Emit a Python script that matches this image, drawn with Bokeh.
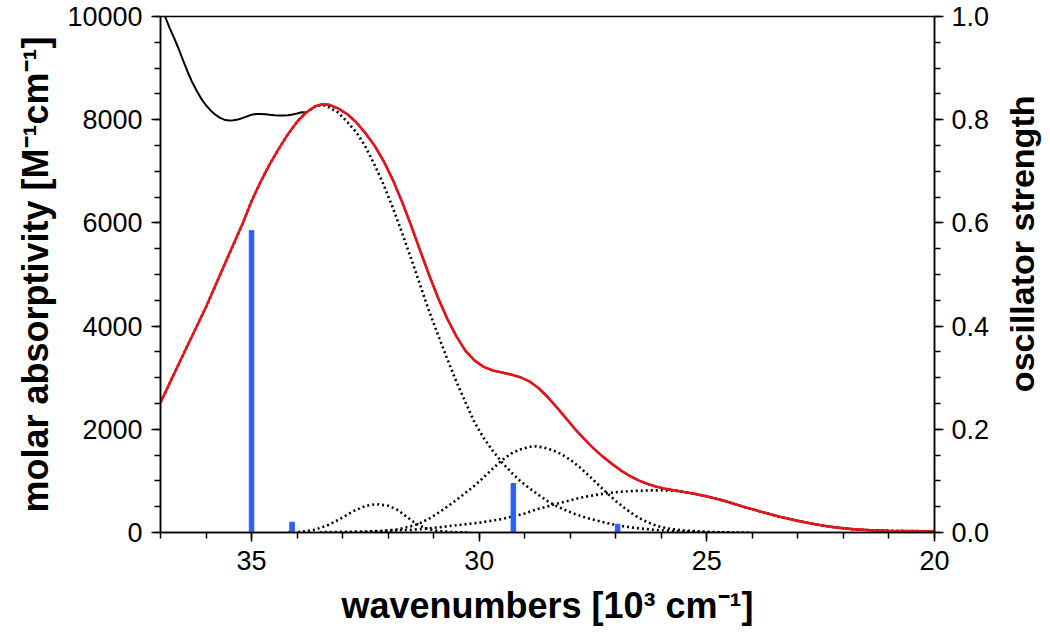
import math
from bokeh.plotting import figure
from bokeh.layouts import row
from bokeh.models import Range1d, LinearAxis, SingleIntervalTicker, PrintfTickFormatter
from bokeh.core.properties import value
from bokeh.embed import file_html
from bokeh.resources import INLINE

# ---- data ----
# fitted (red) spectrum
red_x = [37.0, 36.5, 36.0, 35.5, 35.2, 35.0, 34.8, 34.6, 34.4, 34.2, 34.0, 33.8, 33.6, 33.45,
         33.3, 33.1, 32.9, 32.7, 32.5, 32.3, 32.1, 31.9, 31.7, 31.5, 31.3, 31.1, 30.9, 30.7,
         30.5, 30.3, 30.1, 29.9, 29.7, 29.5, 29.3, 29.1, 28.9, 28.7, 28.5, 28.3, 28.1, 27.9,
         27.7, 27.5, 27.3, 27.1, 26.9, 26.7, 26.5, 26.3, 26.1, 25.9, 25.6, 25.3, 25.0, 24.6,
         24.2, 23.8, 23.4, 23.0, 22.6, 22.2, 21.8, 21.4, 21.0, 20.5, 20.0]
red_y = [2518, 3450, 4370, 5380, 5980, 6420, 6800, 7140, 7440, 7720, 7960, 8140, 8260, 8300,
         8290, 8220, 8110, 7950, 7740, 7500, 7200, 6840, 6420, 5960, 5470, 4990, 4540, 4140,
         3800, 3520, 3330, 3210, 3140, 3100, 3060, 3010, 2930, 2800, 2630, 2430, 2220, 2010,
         1820, 1640, 1480, 1340, 1210, 1100, 1010, 940, 885, 845, 800, 755, 700, 610,
         500, 400, 305, 225, 155, 100, 65, 45, 35, 28, 20]

# experimental (black) spectrum where it departs from the fit
exp_left_x = [36.9, 36.8, 36.7, 36.6, 36.5, 36.4, 36.3, 36.2, 36.1, 36.0, 35.9, 35.8, 35.7,
              35.6, 35.5, 35.4, 35.3, 35.2, 35.1, 35.0, 34.9, 34.8, 34.7, 34.6, 34.5, 34.4,
              34.3, 34.2, 34.1, 34.0, 33.9]
exp_left_y = [10000, 9780, 9580, 9370, 9140, 8920, 8720, 8550, 8400, 8280, 8180, 8100, 8040,
              8000, 7985, 7990, 8005, 8030, 8065, 8095, 8110, 8112, 8105, 8095, 8088, 8082,
              8080, 8085, 8100, 8120, 8145]

# Gaussian components (dotted)
g1_right_x = [33.45, 33.3, 33.1, 32.9, 32.7, 32.5, 32.3, 32.1, 31.9, 31.7, 31.5, 31.3, 31.1,
              30.9, 30.7, 30.5, 30.3, 30.1, 29.9, 29.7, 29.5, 29.3, 29.1, 28.9, 28.7, 28.5,
              28.3, 28.1, 27.9, 27.7, 27.5, 27.3, 27.1, 26.9, 26.6, 26.2, 25.6, 25.0, 24.0]
g1_right_y = [8290, 8240, 8140, 7960, 7760, 7480, 7130, 6740, 6300, 5820, 5320, 4800, 4290,
              3820, 3360, 2920, 2520, 2130, 1830, 1580, 1360, 1170, 1000, 860, 730, 610,
              510, 430, 360, 300, 250, 205, 165, 130, 90, 55, 20, 5, 0]

g2_x = [34.2, 33.9, 33.6, 33.3, 33.0, 32.75, 32.5, 32.25, 32.0, 31.8, 31.6, 31.4, 31.2, 31.0,
        30.6, 30.2]
g2_y = [0, 15, 55, 150, 290, 420, 515, 550, 520, 440, 310, 180, 90, 40, 8, 0]

g3_x = [32.6, 32.2, 31.8, 31.5, 31.3, 31.1, 30.9, 30.7, 30.5, 30.3, 30.1, 29.9, 29.7, 29.5,
        29.3, 29.1, 28.9, 28.75, 28.6, 28.4, 28.2, 28.0, 27.8, 27.6, 27.4, 27.2, 27.0, 26.8,
        26.6, 26.4, 26.2, 26.0, 25.8, 25.5, 25.0, 24.5]
g3_y = [0, 20, 60, 120, 180, 270, 380, 500, 630, 770, 910, 1070, 1240, 1400,
        1530, 1610, 1660, 1670, 1650, 1600, 1520, 1410, 1270, 1110, 940, 770, 610, 470,
        340, 240, 160, 105, 70, 40, 12, 0]

g4_left_x = [33.5, 32.5, 31.5, 31.0, 30.5, 30.0, 29.5, 29.0, 28.7, 28.4, 28.1, 27.8, 27.5,
             27.2, 26.9, 26.6, 26.3, 26.0, 25.7, 25.4]
g4_left_y = [5, 20, 50, 90, 140, 190, 260, 370, 460, 530, 600, 670, 720,
             760, 790, 805, 815, 818, 810, 770]

# calculated transitions (oscillator strengths)
osc_x = [35.0, 34.11, 29.25, 26.96]
osc_f = [0.585, 0.020, 0.095, 0.016]

x_label = "wavenumbers [10³ cm⁻¹]"
y_label = "molar absorptivity [M⁻¹cm⁻¹]"
y2_label = "oscillator strength"

# experimental curve merges with the fit below ~33.85
exp_x = exp_left_x + [x for x in red_x if x < 33.85]
exp_y = exp_left_y + [y for x, y in zip(red_x, red_y) if x < 33.85]
# big component coincides with the fit on its high-energy side
g1_x = [x for x in red_x if x > 33.5] + g1_right_x
g1_y = [y for x, y in zip(red_x, red_y) if x > 33.5] + g1_right_y
# broad low-energy component coincides with the fit on its tail
g4_x = g4_left_x + [x for x in red_x if x < 25.35]
g4_y = g4_left_y + [y for x, y in zip(red_x, red_y) if x < 25.35]

FONT = "Liberation Sans"
H = 631

p = figure(width=1000, height=H, output_backend="svg", toolbar_location=None,
           x_range=Range1d(37, 20), y_range=Range1d(0, 10000),
           min_border_left=160, min_border_right=66, min_border_top=16, min_border_bottom=99)
p.extra_y_ranges = {"osc": Range1d(0, 1.0)}
p.xgrid.visible = False
p.ygrid.visible = False
p.outline_line_color = "black"
p.outline_line_width = 1.5
p.background_fill_color = "white"
p.border_fill_color = "white"

dot = dict(line_dash="2 3", line_width=2.6, color="black")
p.line(g1_x, g1_y, **dot)
p.line(g2_x, g2_y, **dot)
p.line(g3_x, g3_y, **dot)
p.line(g4_x, g4_y, **dot)

p.vbar(x=osc_x, top=osc_f, bottom=0, width=0.1, y_range_name="osc",
       fill_color="#2f5ff5", line_color="#2f5ff5")

p.line(exp_x, exp_y, line_width=2, color="black")
p.line(red_x, red_y, line_width=2.6, color="#e3161d")

right = LinearAxis(y_range_name="osc",
                   ticker=SingleIntervalTicker(interval=0.2, num_minor_ticks=4),
                   formatter=PrintfTickFormatter(format="%.1f"))
p.add_layout(right, "right")

p.xaxis.ticker = SingleIntervalTicker(interval=5, num_minor_ticks=5)
p.xaxis.formatter = PrintfTickFormatter(format="%d")
p.yaxis[0].ticker = SingleIntervalTicker(interval=2000, num_minor_ticks=4)
p.yaxis[0].formatter = PrintfTickFormatter(format="%d")

p.xaxis.axis_label = x_label
p.yaxis[0].axis_label = y_label

for ax in [p.xaxis[0], p.yaxis[0], right]:
    ax.major_label_text_font = FONT
    ax.major_label_text_font_size = "27px"
    ax.major_label_text_color = "black"
    ax.axis_label_text_font = FONT
    ax.axis_label_text_font_size = "36px"
    ax.axis_label_text_font_style = "bold"
    ax.axis_label_text_color = "black"
    ax.axis_line_width = 1.5
    ax.major_tick_line_width = 1.5
    ax.minor_tick_line_width = 1.5
    ax.major_tick_out = 9
    ax.major_tick_in = 0
    ax.minor_tick_out = 6
    ax.minor_tick_in = 0
    ax.major_label_standoff = 9
    ax.axis_label_standoff = 8

p.xaxis[0].axis_label_standoff = 12
right.major_label_standoff = 8

# narrow strip on the right carrying the right-axis title (reads bottom to top)
p2 = figure(width=42, height=H, output_backend="svg", toolbar_location=None,
            x_range=Range1d(0, 42), y_range=Range1d(0, H),
            min_border=0, min_border_left=0, min_border_right=0,
            min_border_top=0, min_border_bottom=0)
p2.axis.visible = False
p2.grid.visible = False
p2.outline_line_color = None
p2.background_fill_color = "white"
p2.border_fill_color = "white"
p2.text(x=[21], y=[H - 278], text=[y2_label], angle=math.pi / 2,
        text_align="center", text_baseline="middle",
        text_font=value(FONT), text_font_size="34px", text_font_style="bold",
        text_color="black")

layout = row(p, p2, spacing=0)
open("out.html", "w").write(file_html(layout, INLINE))
